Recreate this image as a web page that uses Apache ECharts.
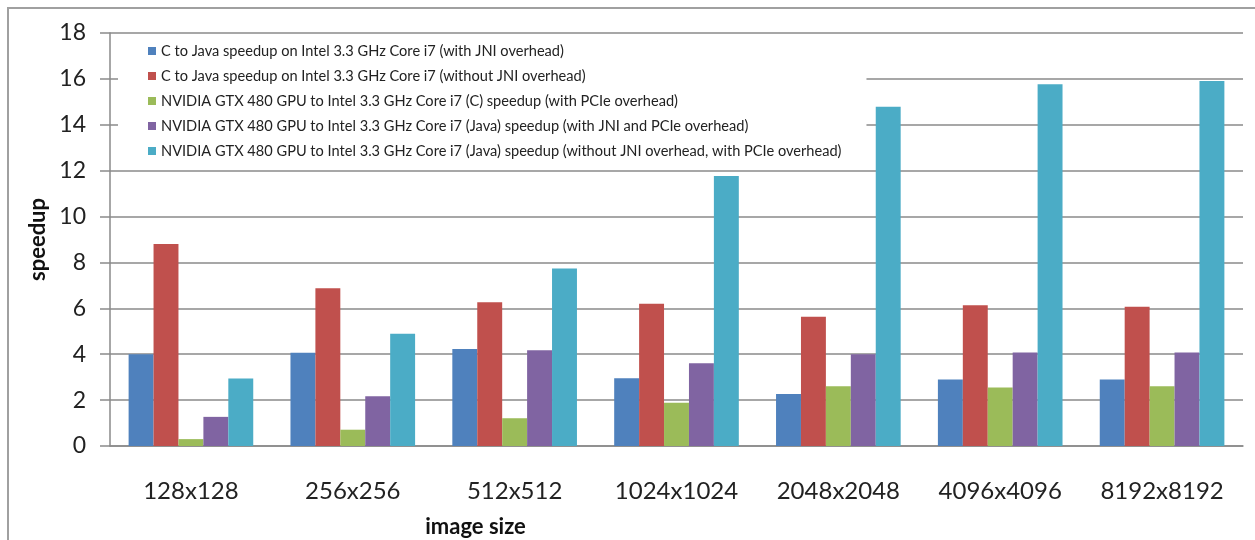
<!DOCTYPE html>
<html>
<head>
<meta charset="utf-8">
<script src="https://cdn.jsdelivr.net/npm/echarts@6/dist/echarts.min.js"></script>
<style>
  html, body { margin: 0; padding: 0; background: #fff; }
  #chart { width: 1255px; height: 540px; }
</style>
</head>
<body>
<div id="chart"></div>
<script>
var categories = ["128x128", "256x256", "512x512", "1024x1024", "2048x2048", "4096x4096", "8192x8192"];
var seriesNames = [
  "C to Java speedup on Intel 3.3 GHz Core i7 (with JNI overhead)",
  "C to Java speedup on Intel 3.3 GHz Core i7 (without JNI overhead)",
  "NVIDIA GTX 480 GPU to Intel 3.3 GHz Core i7 (C) speedup (with PCIe overhead)",
  "NVIDIA GTX 480 GPU to Intel 3.3 GHz Core i7 (Java) speedup (with JNI and PCIe overhead)",
  "NVIDIA GTX 480 GPU to Intel 3.3 GHz Core i7 (Java) speedup (without JNI overhead, with PCIe overhead)"
];
var cJavaWithJni    = [4.0, 4.06, 4.23, 2.95, 2.27, 2.9, 2.9];
var cJavaWithoutJni = [8.8, 6.87, 6.26, 6.2, 5.63, 6.13, 6.07];
var gpuC            = [0.3, 0.71, 1.21, 1.89, 2.6, 2.55, 2.6];
var gpuJavaWithJni  = [1.27, 2.17, 4.17, 3.61, 4.0, 4.07, 4.07];
var gpuJavaNoJni    = [2.94, 4.89, 7.74, 11.77, 14.79, 15.77, 15.91];
var colors = ["#4F81BD", "#C0504D", "#9BBB59", "#8064A2", "#4BACC6"];

var allValues = [cJavaWithJni, cJavaWithoutJni, gpuC, gpuJavaWithJni, gpuJavaNoJni];
var FONT = "Lato, 'Liberation Sans', sans-serif";

var chart = echarts.init(document.getElementById("chart"));
chart.setOption({
  animation: false,
  textStyle: { fontFamily: FONT },
  graphic: [{
    type: "rect",
    shape: { x: 8, y: 8, width: 1300, height: 600 },
    style: { fill: "none", stroke: "#a0a0a0", lineWidth: 2 },
    z: -1
  }],
  grid: { left: 110, right: 12, top: 33, bottom: 94, outerBoundsMode: "none" },
  legend: {
    orient: "vertical",
    left: 118,
    top: 36,
    padding: [7, 25, 9, 30],
    backgroundColor: "#fff",
    itemWidth: 8,
    itemHeight: 8,
    itemGap: 9,
    icon: "rect",
    textStyle: { fontSize: 14.6, color: "#222", lineHeight: 16, fontFamily: FONT },
    data: seriesNames
  },
  xAxis: {
    type: "category",
    data: categories,
    name: "image size",
    nameLocation: "middle",
    nameGap: 70,
    nameTextStyle: { fontSize: 22, fontWeight: "bold", color: "#111", padding: [0, 402, 0, 0] },
    axisLine: { lineStyle: { color: "#8a8a8a", width: 1.5 } },
    axisTick: { show: false },
    axisLabel: { fontSize: 24, color: "#222", margin: 33 }
  },
  yAxis: {
    type: "value",
    min: 0,
    max: 18,
    interval: 2,
    name: "speedup",
    nameLocation: "middle",
    nameGap: 60,
    nameTextStyle: { fontSize: 22, fontWeight: "bold", color: "#111" },
    axisLine: { show: true, lineStyle: { color: "#8a8a8a", width: 1.5 } },
    axisTick: { show: true, length: 10, lineStyle: { color: "#8a8a8a", width: 1.5 } },
    axisLabel: { fontSize: 23, color: "#222", margin: 24 },
    splitLine: { show: true, lineStyle: { color: "#8a8a8a", width: 1.5 } }
  },
  series: seriesNames.map(function (name, i) {
    return {
      name: name,
      type: "bar",
      data: allValues[i],
      itemStyle: { color: colors[i] },
      barGap: "0%",
      barCategoryGap: "23%"
    };
  })
});
</script>
</body>
</html>
